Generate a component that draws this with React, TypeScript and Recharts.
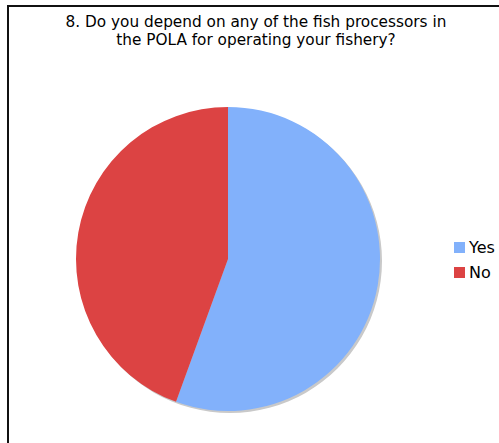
import { PieChart, Pie, Cell, Legend } from "recharts";

const titleLines = [
  "8. Do you depend on any of the fish processors in",
  "the POLA for operating your fishery?",
];
const answers = ["Yes", "No"];
const counts = [5, 4];
const sliceColors = ["#82b1fb", "#dc4343"];

const data = answers.map((name, i) => ({ name, value: counts[i] }));
const shadowData = [{ name: "shadow", value: 1 }];

const FONT = "'DejaVu Sans', Verdana, sans-serif";

function LegendList() {
  return (
    <div style={{ fontFamily: FONT, fontSize: 16, color: "#000" }}>
      {data.map((d, i) => (
        <div key={d.name} style={{ display: "flex", alignItems: "center", height: 25 }}>
          <span
            style={{
              display: "inline-block",
              width: 11,
              height: 11,
              background: sliceColors[i],
              marginRight: 4,
            }}
          />
          <span>{d.name}</span>
        </div>
      ))}
    </div>
  );
}

export default function App() {
  return (
    <div
      style={{
        position: "absolute",
        left: 0,
        top: 0,
        width: 499,
        height: 443,
        background: "#fff",
        overflow: "hidden",
      }}
    >
      {/* frame: only top and left edges fall inside the view */}
      <div
        style={{
          position: "absolute",
          left: 7,
          top: 5,
          width: 520,
          height: 470,
          border: "2px solid #111",
        }}
      />
      <div
        style={{
          position: "absolute",
          left: 0,
          top: 13,
          width: 512,
          textAlign: "center",
          fontFamily: FONT,
          fontSize: 15.3,
          lineHeight: "18px",
          color: "#000",
        }}
      >
        {titleLines.map((t) => (
          <div key={t}>{t}</div>
        ))}
      </div>
      <div style={{ position: "absolute", left: 0, top: 0 }}>
        <PieChart width={499} height={443} margin={{ top: 0, right: 0, bottom: 0, left: 0 }}>
          <Pie
            data={shadowData}
            dataKey="value"
            cx={230}
            cy={261}
            outerRadius={152}
            stroke="none"
            fill="#c9c9c9"
            isAnimationActive={false}
          />
          <Pie
            data={data}
            dataKey="value"
            nameKey="name"
            cx={228}
            cy={259}
            outerRadius={152}
            startAngle={90}
            endAngle={-270}
            stroke="none"
            isAnimationActive={false}
          >
            {data.map((d, i) => (
              <Cell key={d.name} fill={sliceColors[i]} />
            ))}
          </Pie>
          <Legend
            layout="vertical"
            content={<LegendList />}
            wrapperStyle={{ position: "absolute", left: 454, top: 235, width: 60 }}
          />
        </PieChart>
      </div>
    </div>
  );
}
